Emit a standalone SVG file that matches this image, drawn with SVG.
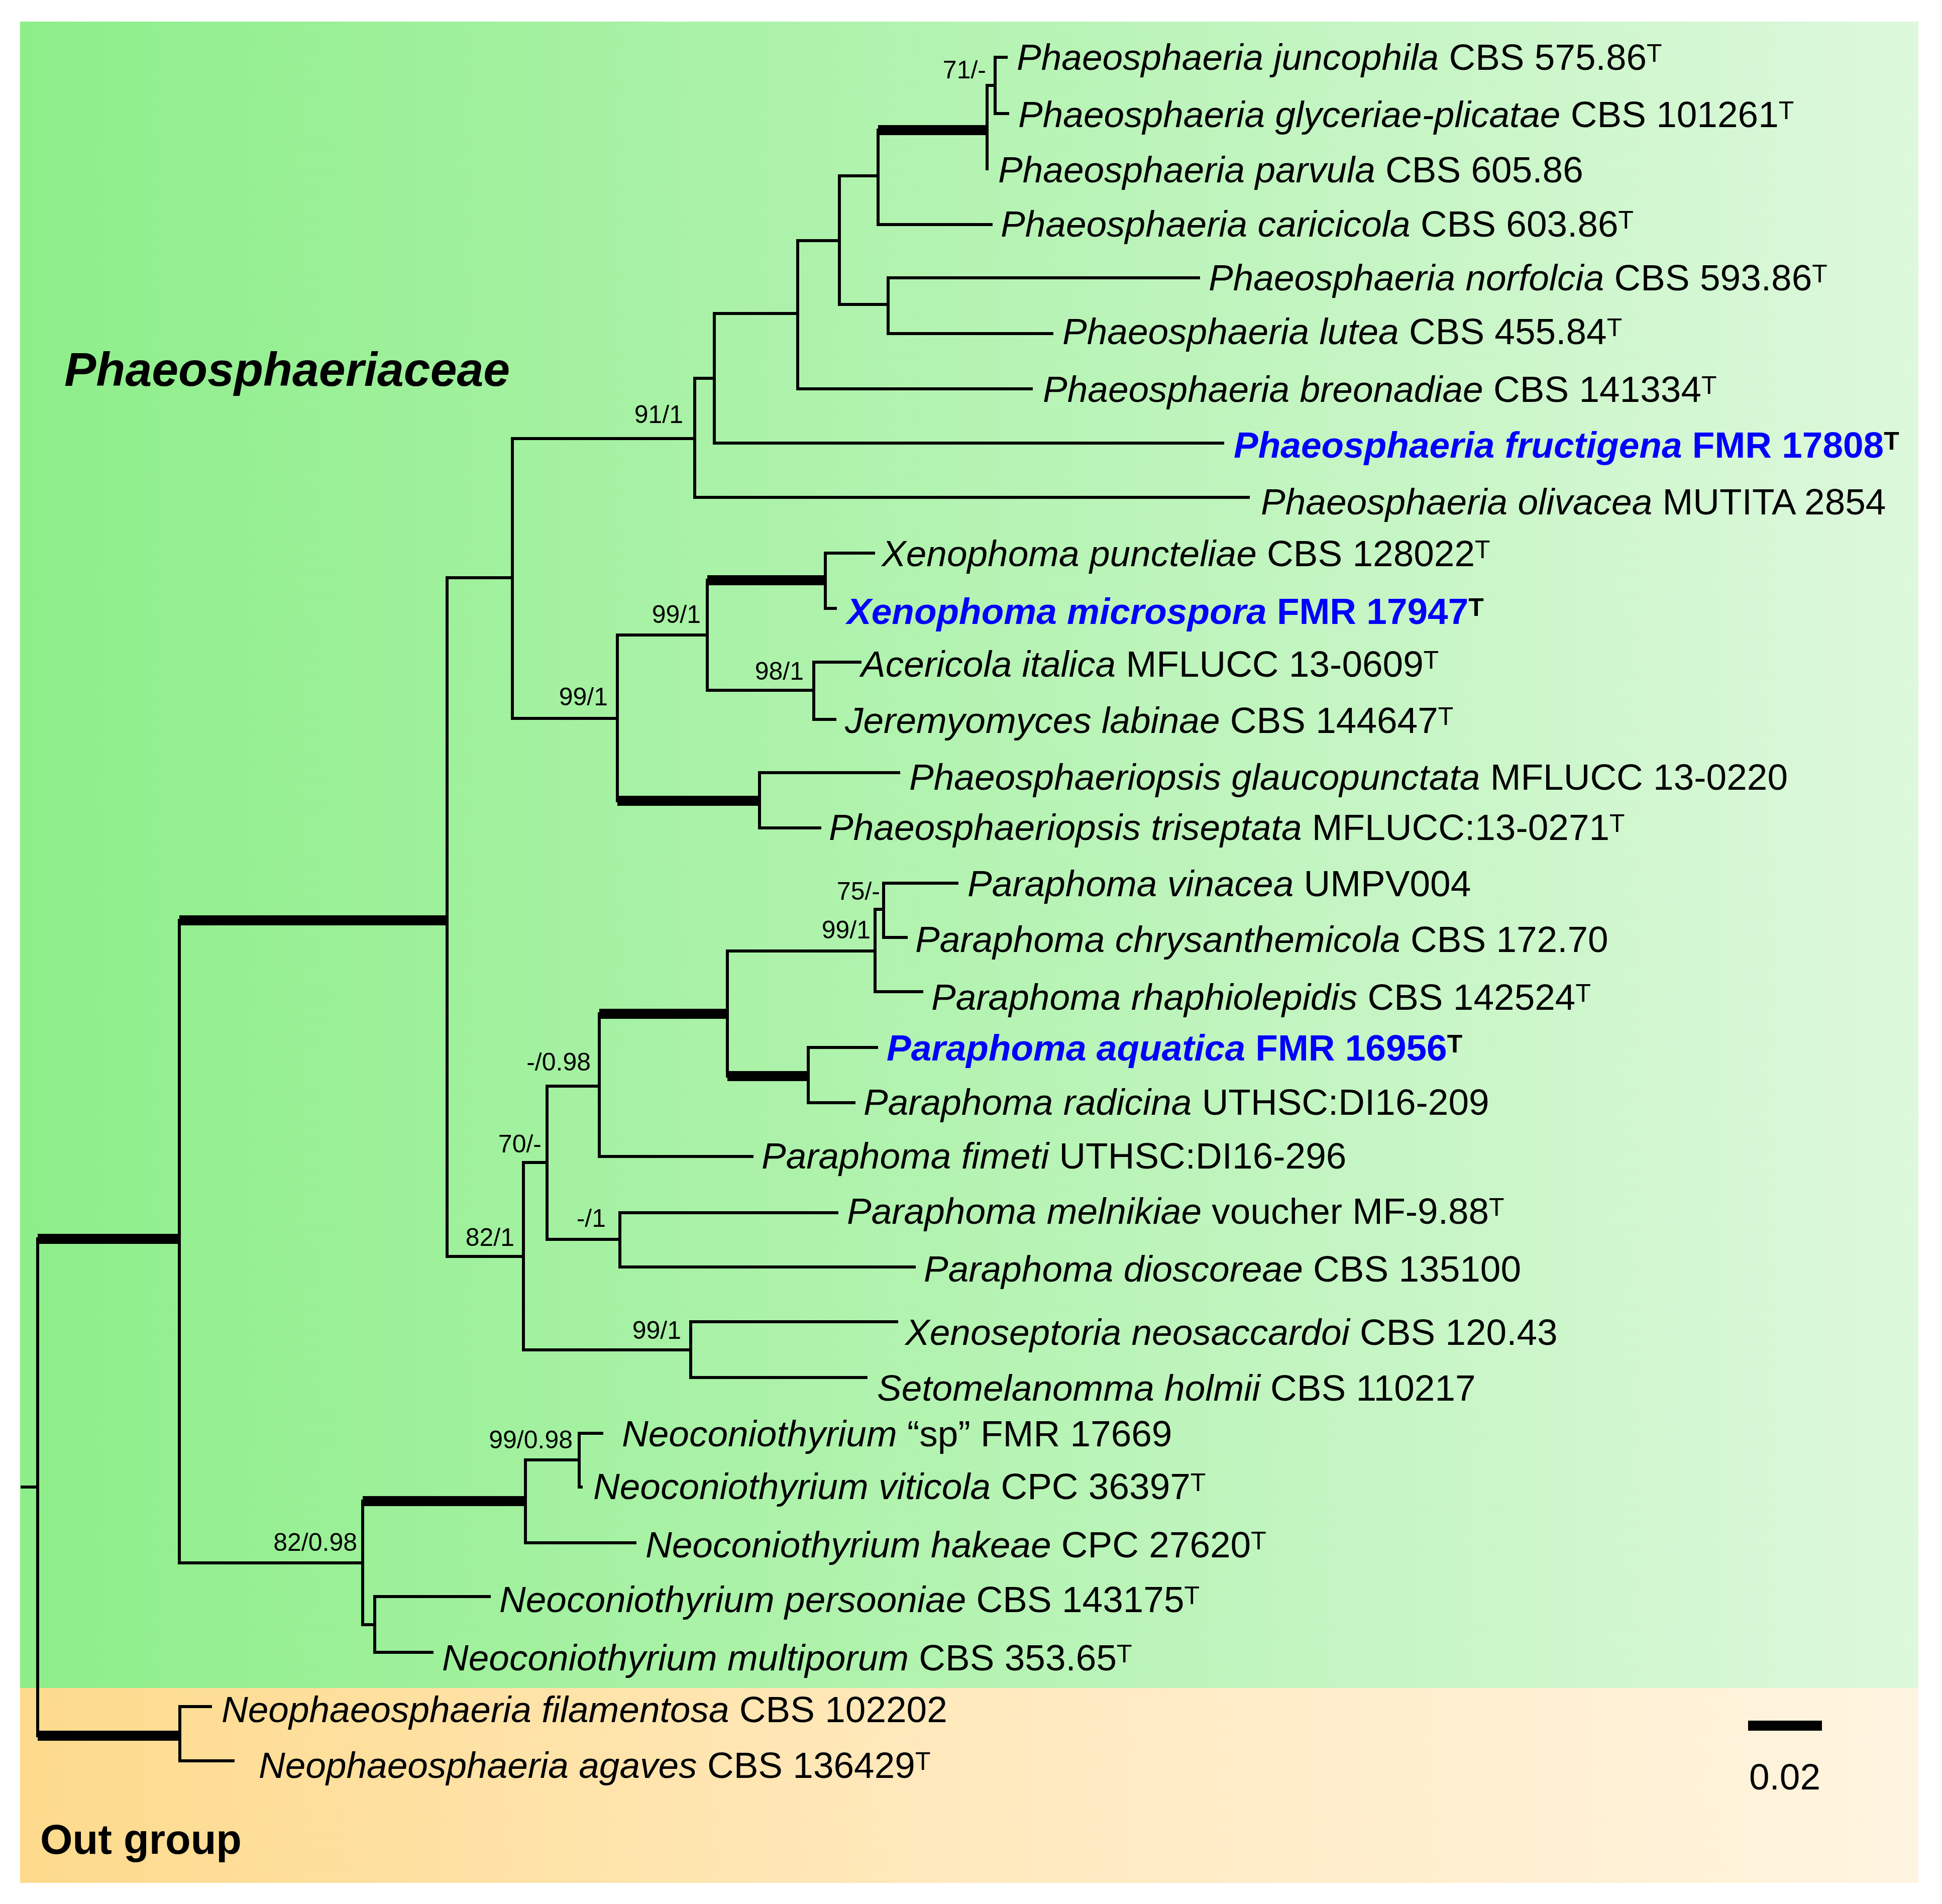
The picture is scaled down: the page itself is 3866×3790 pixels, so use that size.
<svg xmlns="http://www.w3.org/2000/svg" width="3866" height="3790" viewBox="0 0 3866 3790">
<defs>
<linearGradient id="gGreen" x1="0" y1="0" x2="1" y2="0">
<stop offset="0" stop-color="#8DEE89"/>
<stop offset="0.5" stop-color="#B4F3B2"/>
<stop offset="1" stop-color="#DDF8DC"/>
</linearGradient>
<linearGradient id="gOrange" x1="0" y1="0" x2="1" y2="0">
<stop offset="0" stop-color="#FDDA8C"/>
<stop offset="0.5" stop-color="#FFE9BE"/>
<stop offset="1" stop-color="#FFF4E0"/>
</linearGradient>
<style>
.br{stroke:#000;stroke-width:6;fill:none;stroke-linecap:square}
.th{stroke:#000;stroke-width:20;fill:none;stroke-linecap:butt}
.tx{font-family:"Liberation Sans",Arial,sans-serif;font-size:73px;fill:#000}
.i{font-style:italic}
.sup{font-size:50px}
.new{fill:#0000FF;font-weight:bold}
.supb{font-size:50px;font-weight:bold;fill:#000}
.bs{font-family:"Liberation Sans",Arial,sans-serif;font-size:50px;fill:#000;text-anchor:end}
.hd{font-family:"Liberation Sans",Arial,sans-serif;font-weight:bold;fill:#000}
</style>
</defs>
<rect x="0" y="0" width="3866" height="3790" fill="#FFFFFF"/>
<g id="bg-ingroup"><rect x="40" y="43" width="3779" height="3317" fill="url(#gGreen)"/></g>
<g id="bg-outgroup"><rect x="40" y="3360" width="3779" height="388" fill="url(#gOrange)"/></g>
<g id="group-labels">
<text class="hd" x="128" y="768" font-size="95" font-style="italic">Phaeosphaeriaceae</text>
<text class="hd" x="80" y="3690" font-size="83">Out group</text>
</g>
<g id="connectors">
<path class="br" d="M44 2960H75 M75 2466V3455 M357 1832V3111 M358 3397V3505 M358 3397H419 M358 3505H464
M890 1150V2501 M890 1150H1020 M1020 873V1430 M1020 873H1383 M1383 753V990 M1383 990H2485
M1383 753H1422 M1422 624V882 M1422 882H2434 M1422 624H1588 M1588 479V774 M1588 774H2053
M1588 479H1671 M1671 350V606 M1671 350H1748 M1748 259V447 M1748 447H1973
M1965 170V336 M1965 170H1981 M1981 114V226 M1981 114H2003 M1981 226H2006
M1671 606H1768 M1768 553V664 M1768 553H2386 M1768 664H2094
M1020 1430H1229 M1229 1264V1594 M1229 1264H1408 M1408 1155V1374 M1408 1374H1620
M1643 1101V1211 M1643 1101H1739 M1643 1211H1663 M1620 1318V1432 M1620 1318H1712 M1620 1432H1662
M1512 1538V1648 M1512 1538H1789 M1512 1648H1632
M890 2501H1042 M1042 2314V2687 M1042 2314H1089 M1089 2162V2467 M1089 2162H1193 M1193 2018V2302 M1193 2302H1497
M1448 1893V2142 M1448 1893H1742 M1742 1810V1974 M1742 1974H1835 M1742 1810H1759 M1759 1758V1866 M1759 1758H1905 M1759 1866H1804
M1609 2085V2195 M1609 2085H1745 M1609 2195H1700
M1089 2467H1234 M1234 2414V2522 M1234 2414H1666 M1234 2522H1820
M1042 2687H1375 M1375 2631V2742 M1375 2631H1785 M1375 2742H1724
M357 3111H722 M722 2988V3234 M1046 2906V3071 M1046 3071H1264 M1046 2906H1153 M1153 2853V2960 M1153 2853H1198 M1153 2960H1157
M722 3234H746 M746 3178V3289 M746 3178H974 M746 3289H860"/>
<path class="th" d="M75 2466H357 M357 1832H890 M75 3455H358 M1748 259H1965 M1408 1155H1643 M1229 1594H1512 M1193 2018H1448 M1448 2142H1609 M722 2988H1046"/>
</g>
<g id="support-values">
<text class="bs" x="1963" y="156">71/-</text>
<text class="bs" x="1360" y="842">91/1</text>
<text class="bs" x="1210" y="1404">99/1</text>
<text class="bs" x="1395" y="1240">99/1</text>
<text class="bs" x="1600" y="1353">98/1</text>
<text class="bs" x="1752" y="1791">75/-</text>
<text class="bs" x="1733" y="1868">99/1</text>
<text class="bs" x="1176" y="2131">-/0.98</text>
<text class="bs" x="1078" y="2294">70/-</text>
<text class="bs" x="1206" y="2442">-/1</text>
<text class="bs" x="1024" y="2480">82/1</text>
<text class="bs" x="1356" y="2665">99/1</text>
<text class="bs" x="1140" y="2883">99/0.98</text>
<text class="bs" x="711" y="3087">82/0.98</text>
</g>
<g id="taxa">
<g id="t01"><text class="tx" x="2024" y="139"><tspan class="i">Phaeosphaeria juncophila</tspan> CBS 575.86<tspan class="sup" dy="-16">T</tspan></text></g>
<g id="t02"><text class="tx" x="2027" y="253"><tspan class="i">Phaeosphaeria glyceriae-plicatae</tspan> CBS 101261<tspan class="sup" dy="-16">T</tspan></text></g>
<g id="t03"><text class="tx" x="1987" y="363"><tspan class="i">Phaeosphaeria parvula</tspan> CBS 605.86</text></g>
<g id="t04"><text class="tx" x="1992" y="471"><tspan class="i">Phaeosphaeria caricicola</tspan> CBS 603.86<tspan class="sup" dy="-16">T</tspan></text></g>
<g id="t05"><text class="tx" x="2406" y="578"><tspan class="i">Phaeosphaeria norfolcia</tspan> CBS 593.86<tspan class="sup" dy="-16">T</tspan></text></g>
<g id="t06"><text class="tx" x="2115" y="685"><tspan class="i">Phaeosphaeria lutea</tspan> CBS 455.84<tspan class="sup" dy="-16">T</tspan></text></g>
<g id="t07"><text class="tx" x="2076" y="800"><tspan class="i">Phaeosphaeria breonadiae</tspan> CBS 141334<tspan class="sup" dy="-16">T</tspan></text></g>
<g id="t08"><text class="tx new" x="2456" y="911"><tspan class="i">Phaeosphaeria fructigena</tspan> FMR 17808<tspan class="supb" dy="-16">T</tspan></text></g>
<g id="t09"><text class="tx" x="2510" y="1024"><tspan class="i">Phaeosphaeria olivacea</tspan> MUTITA 2854</text></g>
<g id="t10"><text class="tx" x="1755" y="1127"><tspan class="i">Xenophoma puncteliae</tspan> CBS 128022<tspan class="sup" dy="-16">T</tspan></text></g>
<g id="t11"><text class="tx new" x="1686" y="1242"><tspan class="i">Xenophoma microspora</tspan> FMR 17947<tspan class="supb" dy="-16">T</tspan></text></g>
<g id="t12"><text class="tx" x="1714" y="1347"><tspan class="i">Acericola italica</tspan> MFLUCC 13-0609<tspan class="sup" dy="-16">T</tspan></text></g>
<g id="t13"><text class="tx" x="1682" y="1459"><tspan class="i">Jeremyomyces labinae</tspan> CBS 144647<tspan class="sup" dy="-16">T</tspan></text></g>
<g id="t14"><text class="tx" x="1810" y="1572"><tspan class="i">Phaeosphaeriopsis glaucopunctata</tspan> MFLUCC 13-0220</text></g>
<g id="t15"><text class="tx" x="1650" y="1672"><tspan class="i">Phaeosphaeriopsis triseptata</tspan> MFLUCC:13-0271<tspan class="sup" dy="-16">T</tspan></text></g>
<g id="t16"><text class="tx" x="1926" y="1784"><tspan class="i">Paraphoma vinacea</tspan> UMPV004</text></g>
<g id="t17"><text class="tx" x="1822" y="1895"><tspan class="i">Paraphoma chrysanthemicola</tspan> CBS 172.70</text></g>
<g id="t18"><text class="tx" x="1854" y="2010"><tspan class="i">Paraphoma rhaphiolepidis</tspan> CBS 142524<tspan class="sup" dy="-16">T</tspan></text></g>
<g id="t19"><text class="tx new" x="1765" y="2111"><tspan class="i">Paraphoma aquatica</tspan> FMR 16956<tspan class="supb" dy="-16">T</tspan></text></g>
<g id="t20"><text class="tx" x="1719" y="2219"><tspan class="i">Paraphoma radicina</tspan> UTHSC:DI16-209</text></g>
<g id="t21"><text class="tx" x="1516" y="2326"><tspan class="i">Paraphoma fimeti</tspan> UTHSC:DI16-296</text></g>
<g id="t22"><text class="tx" x="1686" y="2436"><tspan class="i">Paraphoma melnikiae</tspan> voucher MF-9.88<tspan class="sup" dy="-16">T</tspan></text></g>
<g id="t23"><text class="tx" x="1839" y="2551"><tspan class="i">Paraphoma dioscoreae</tspan> CBS 135100</text></g>
<g id="t24"><text class="tx" x="1802" y="2677"><tspan class="i">Xenoseptoria neosaccardoi</tspan> CBS 120.43</text></g>
<g id="t25"><text class="tx" x="1746" y="2788"><tspan class="i">Setomelanomma holmii</tspan> CBS 110217</text></g>
<g id="t26"><text class="tx" x="1238" y="2879"><tspan class="i">Neoconiothyrium</tspan> “sp” FMR 17669</text></g>
<g id="t27"><text class="tx" x="1181" y="2984"><tspan class="i">Neoconiothyrium viticola</tspan> CPC 36397<tspan class="sup" dy="-16">T</tspan></text></g>
<g id="t28"><text class="tx" x="1285" y="3100"><tspan class="i">Neoconiothyrium hakeae</tspan> CPC 27620<tspan class="sup" dy="-16">T</tspan></text></g>
<g id="t29"><text class="tx" x="994" y="3209"><tspan class="i">Neoconiothyrium persooniae</tspan> CBS 143175<tspan class="sup" dy="-16">T</tspan></text></g>
<g id="t30"><text class="tx" x="880" y="3325"><tspan class="i">Neoconiothyrium multiporum</tspan> CBS 353.65<tspan class="sup" dy="-16">T</tspan></text></g>
<g id="t31"><text class="tx" x="441" y="3428"><tspan class="i">Neophaeosphaeria filamentosa</tspan> CBS 102202</text></g>
<g id="t32"><text class="tx" x="515" y="3539"><tspan class="i">Neophaeosphaeria agaves</tspan> CBS 136429<tspan class="sup" dy="-16">T</tspan></text></g>
</g>
<g id="scale-bar">
<path class="th" d="M3480 3435H3627"/>
<text class="tx" x="3553" y="3562" text-anchor="middle">0.02</text>
</g>
</svg>
